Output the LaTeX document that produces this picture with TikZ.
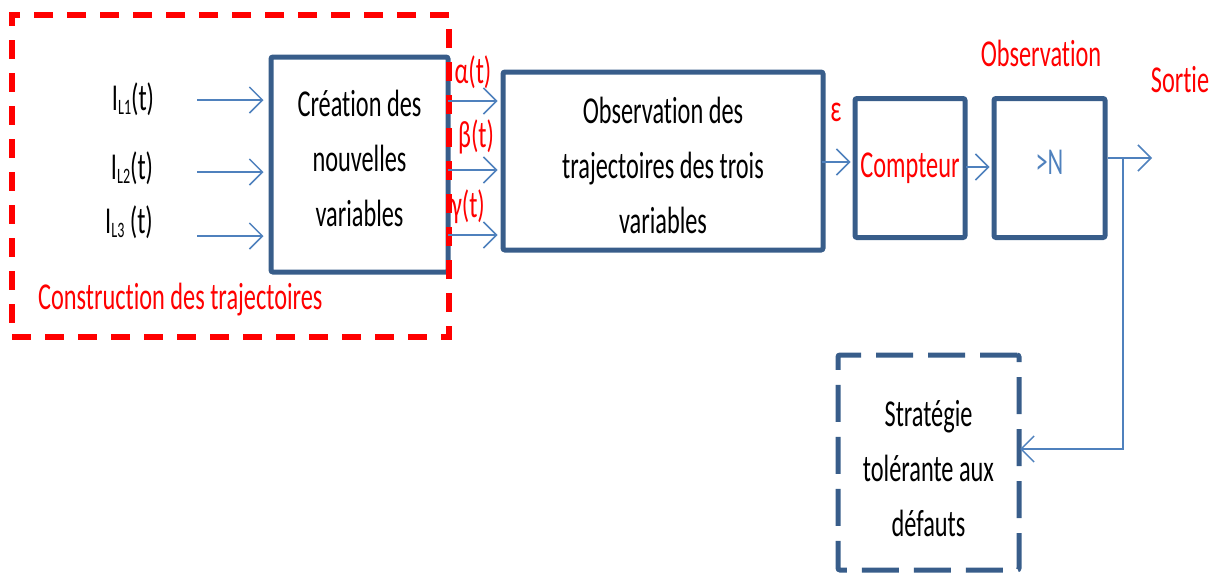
\documentclass[tikz,border=0pt]{standalone}
\usepackage{fontspec}
\setmainfont{Carlito}[FakeStretch=0.64, Ligatures={NoCommon}]
\usetikzlibrary{arrows.meta}
\definecolor{boxblue}{RGB}{56,93,138}
\definecolor{arrblue}{RGB}{79,129,189}
\definecolor{lblred}{RGB}{255,0,0}
\newcommand{\lsub}[1]{\raisebox{-4pt}{\fontsize{22}{22}\selectfont #1}}
\newcommand{\mlines}[2]{\raisebox{#1}[\height][\depth]{\begin{tabular}{@{}c@{}}#2\end{tabular}}}
\begin{document}
\begin{tikzpicture}[x=1pt,y=-1pt,
  txt/.style={font=\fontsize{38}{55}\selectfont, align=center, inner sep=0pt},
  blk/.style={draw=boxblue, line width=5pt, rounded corners=2pt, txt},
  dblk/.style={blk, dash pattern=on 37pt off 15pt},
  arr/.style={draw=arrblue, line width=1.5pt, -{Straight Barb[length=13pt,width=26pt]}},
  redtxt/.style={txt, text=lblred}
]
\useasboundingbox (0,0) rectangle (1217,574);

% blocks
\node[blk, minimum width=177pt, minimum height=215pt] (cre) at (359.5,164.5) {\mlines{4pt}{Création des\\nouvelles\\variables}};
\node[blk, minimum width=320pt, minimum height=178pt] (obs) at (663,161) {\mlines{-6pt}{Observation des\\trajectoires des trois\\variables}};
\node[blk, text=lblred, minimum width=110pt, minimum height=139pt] (cpt) at (910,168) {Compteur};
\node[blk, text=arrblue, minimum width=111pt, minimum height=139pt] (gtn) at (1049.5,168) {\raisebox{6pt}[\height][\depth]{>N}};
\node[dblk, minimum width=181pt, minimum height=215pt] (strat) at (928.5,462.5) {\mlines{-8pt}{Stratégie\\tolérante aux\\défauts}};

% group frame
\node[draw=lblred, line width=6pt, dash pattern=on 19pt off 14pt, minimum width=437pt, minimum height=322pt, inner sep=0pt] (grp) at (230.5,176) {};
\node[redtxt, anchor=west] (grplbl) at (38,300) {Construction des trajectoires};

% input labels
\node[txt] (l1) at (133,99) {I\lsub{L1}(t)};
\node[txt] (l2) at (132,168) {I\lsub{L2}(t)};
\node[txt] (l3) at (129,222) {I\lsub{L3} (t)};
\coordinate (s1) at (197,100);
\coordinate (s2) at (197,172);
\coordinate (s3) at (197,236);
\draw[arr, shorten >=5pt] (s1) -- (s1 -| cre.west);
\draw[arr, shorten >=5pt] (s2) -- (s2 -| cre.west);
\draw[arr, shorten >=5pt] (s3) -- (s3 -| cre.west);

% intermediate variables
\node[redtxt] (al) at (473,72) {α(t)};
\node[redtxt] (be) at (476,137) {β(t)};
\node[redtxt] (ga) at (468,207) {γ(t)};
\coordinate (a1) at (448,101);
\coordinate (a2) at (448,170);
\coordinate (a3) at (448,235);
\draw[arr, shorten >=3pt] (a1) -- (a1 -| obs.west);
\draw[arr, shorten >=3pt] (a2) -- (a2 -| obs.west);
\draw[arr, shorten >=3pt] (a3) -- (a3 -| obs.west);

% epsilon
\node[redtxt] (eps) at (836,112) {ε};
\coordinate (e1) at (822,162);
\draw[arr, shorten >=2pt] (e1) -- (e1 -| cpt.west);

% counter to threshold
\coordinate (c1) at (966,167);
\draw[arr, shorten >=2pt] (c1) -- (c1 -| gtn.west);

% labels top right
\node[redtxt] (obsl) at (1041,53) {Observation};
\node[redtxt] (sort) at (1180,80) {Sortie};

% output and feedback
\coordinate (br) at (1123,158);
\coordinate (out) at (1152,158);
\draw[draw=arrblue, line width=1.5pt] (br -| gtn.east) -- (br);
\draw[arr] (br) -- (out);
\coordinate (fb) at (1020,449);
\draw[arr] (br) |- (fb);
\end{tikzpicture}
\end{document}
